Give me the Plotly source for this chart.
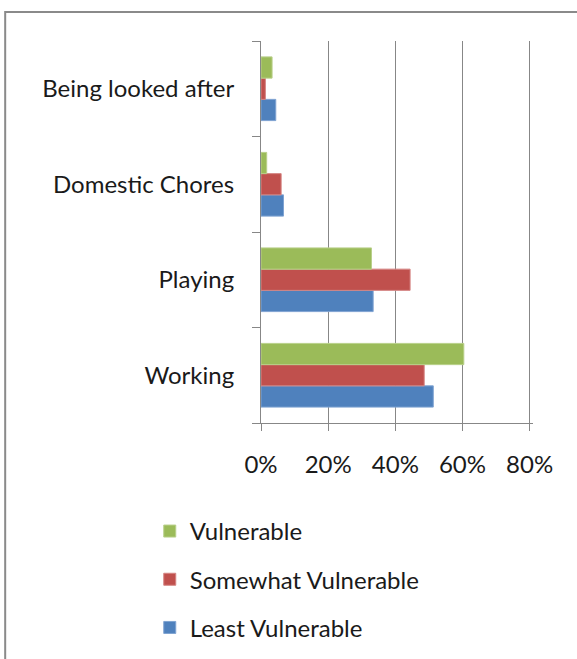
import plotly.graph_objects as go

# Share of children by main activity and vulnerability group (percent)
activities = ["Working", "Playing", "Domestic Chores", "Being looked after"]
least_vulnerable = [51.3, 33.4, 6.7, 4.4]
somewhat_vulnerable = [48.6, 44.4, 6.0, 1.3]
vulnerable = [60.4, 32.9, 1.7, 3.3]

x_ticks = [0, 20, 40, 60, 80]
x_tick_labels = ["0%", "20%", "40%", "60%", "80%"]

FONT = "Lato"
GRID = "#878787"
TEXT = "#1A1A1A"

fig = go.Figure()
series = [
    ("Least Vulnerable", least_vulnerable, "#4F81BD", "#7FA3D2", 3),
    ("Somewhat Vulnerable", somewhat_vulnerable, "#C0504D", "#D58583", 2),
    ("Vulnerable", vulnerable, "#9BBB59", "#B9D08A", 1),
]
for i, (name, vals, color, edge, rank) in enumerate(series):
    fig.add_trace(go.Bar(
        y=activities, x=vals, name=name, orientation="h",
        marker=dict(color=color, line=dict(color=edge, width=1)),
        legendgroup=f"g{i}", legendrank=rank,
    ))

# Outer frame around the chart
fig.add_shape(type="rect", xref="paper", yref="paper",
              x0=-0.9405, x1=1.4, y0=-0.8, y1=1.076,
              line=dict(color="#8A8A8A", width=2), layer="below")

fig.update_layout(
    width=577, height=659,
    margin=dict(l=261, r=44, t=41, b=236, autoexpand=False),
    paper_bgcolor="white", plot_bgcolor="white",
    barmode="group", bargap=0.333, bargroupgap=0,
    font=dict(family=FONT, size=24, color=TEXT),
    showlegend=True,
    legend=dict(
        traceorder="grouped", tracegroupgap=14,
        x=-0.409, xanchor="left", y=-0.225, yanchor="top",
        font=dict(family=FONT, size=24, color=TEXT),
        itemwidth=30, bgcolor="rgba(0,0,0,0)",
    ),
    xaxis=dict(
        range=[0, 81], tickvals=x_ticks, ticktext=x_tick_labels,
        showgrid=True, gridcolor=GRID, gridwidth=1,
        showline=True, linecolor=GRID, linewidth=1,
        ticks="outside", ticklen=7, tickcolor=GRID,
        ticklabelstandoff=13, zeroline=False,
        tickfont=dict(family=FONT, size=24, color=TEXT),
        fixedrange=True,
    ),
    yaxis=dict(
        type="category", categoryorder="array", categoryarray=activities,
        range=[-0.5, 3.5], tickson="boundaries",
        showgrid=False, showline=True, linecolor=GRID, linewidth=1,
        ticks="outside", ticklen=8, tickcolor=GRID,
        ticklabelstandoff=21,
        tickfont=dict(family=FONT, size=24, color=TEXT),
        fixedrange=True,
    ),
)

fig.write_html("out.html")
